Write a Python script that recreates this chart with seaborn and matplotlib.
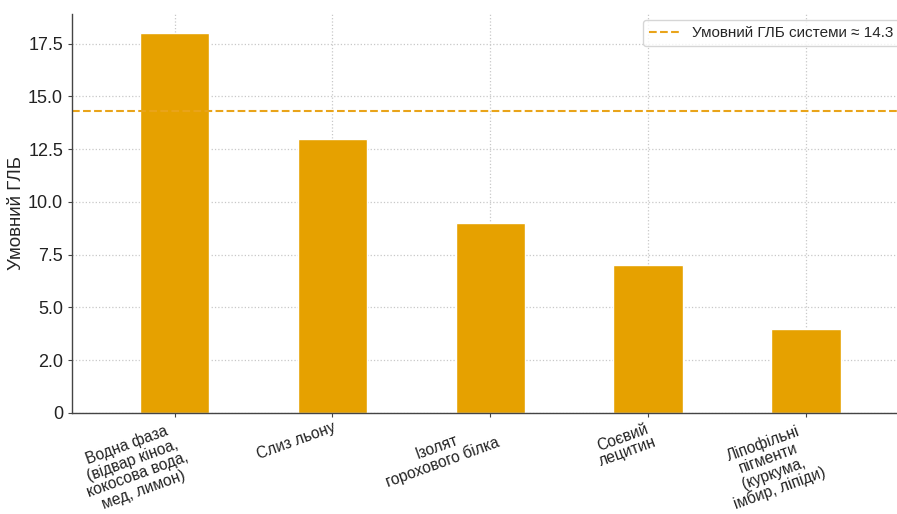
import matplotlib
matplotlib.use("Agg")
import matplotlib.pyplot as plt
import seaborn as sns
import pandas as pd

categories = [
    "Водна фаза\n(відвар кіноа,\nкокосова вода,\nмед, лимон)",
    "Слиз льону",
    "Ізолят\nгорохового білка",
    "Соєвий\nлецитин",
    "Ліпофільні\nпігменти\n(куркума,\nімбир, ліпіди)",
]
hlb_values = [18, 13, 9, 7, 4]
system_hlb = 14.3
ytick_values = [0, 2.5, 5.0, 7.5, 10.0, 12.5, 15.0, 17.5]
ytick_labels = ["0", "2.0", "5.0", "7.5", "10.0", "12.5", "15.0", "17.5"]

sns.set_theme(style="white")
plt.rcParams["font.family"] = ["Liberation Sans", "DejaVu Sans"]

df = pd.DataFrame({"cat": categories, "hlb": hlb_values})

fig = plt.figure(figsize=(8.97, 5.14), dpi=100)
ax = fig.add_axes([0.0803, 0.1965, 0.929, 0.7763])

bar_color = "#E6A100"
sns.barplot(data=df, x="cat", y="hlb", color=bar_color, saturation=1,
            width=0.44, ax=ax)
ax.axhline(system_hlb, color="#E9A41A", linestyle="--", linewidth=1.5,
           label=f"Умовний ГЛБ системи ≈ {system_hlb}")

ax.set_xlim(-0.65, 4.63)
ax.set_ylim(0, 18.9)
ax.set_yticks(ytick_values)
ax.set_yticklabels(ytick_labels, fontsize=13)
ax.set_xlabel("")
ax.set_ylabel("Умовний ГЛБ", fontsize=13.5, labelpad=2)
ax.set_xticks(range(len(categories)))
ax.set_xticklabels(categories, rotation=20, ha="right", va="top",
                   rotation_mode="anchor", multialignment="center",
                   fontsize=11.2, linespacing=1.05)

ax.grid(True, linestyle=":", color="#c8c8c8", linewidth=0.9)
ax.set_axisbelow(True)
for side in ("top", "right"):
    ax.spines[side].set_visible(False)
for side in ("left", "bottom"):
    ax.spines[side].set_color("#444444")
    ax.spines[side].set_linewidth(1.0)
ax.tick_params(axis="both", direction="out", length=3, width=0.8,
               color="#444444", colors="#222222", bottom=True, left=True)
ax.tick_params(axis="x", pad=2)

leg = ax.legend(loc="upper right", fontsize=11, frameon=True,
                fancybox=True, handlelength=2.0, borderaxespad=0.4)
leg.get_frame().set_edgecolor("#cccccc")

fig.savefig("out.png", dpi=100)
